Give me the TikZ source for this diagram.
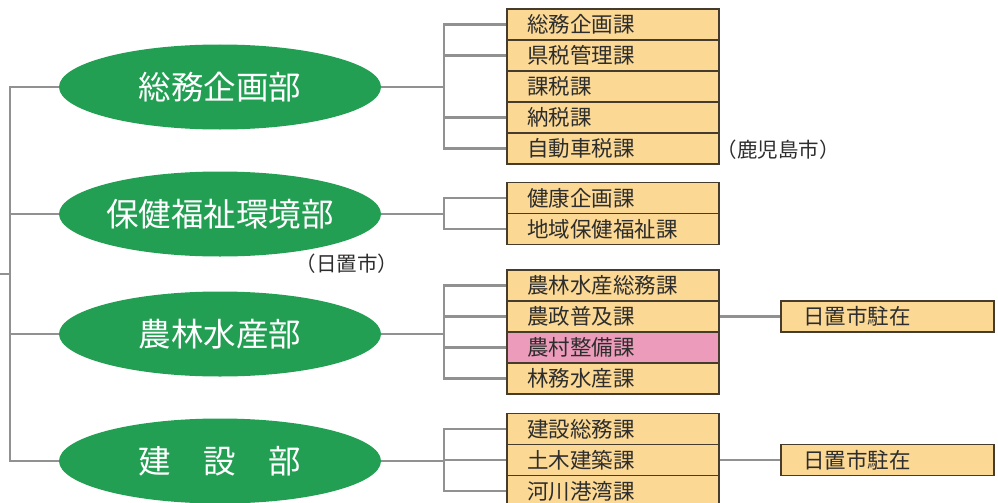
\documentclass[tikz,border=0pt]{standalone}
\usepackage{fontspec}
\setmainfont{Noto Sans CJK JP}
\usetikzlibrary{shapes.geometric, backgrounds}
\definecolor{bugreen}{RGB}{35,159,83}
\definecolor{kafill}{RGB}{251,216,148}
\definecolor{kapink}{RGB}{236,156,186}
\definecolor{kaline}{RGB}{70,60,45}
\definecolor{linkgray}{RGB}{145,145,145}
\definecolor{katext}{RGB}{45,45,45}
\tikzset{
  bu/.style = {ellipse, fill=bugreen, text=white, minimum width=322pt,
    minimum height=85pt, inner sep=0pt, font=\fontsize{32.5}{32.5}\selectfont},
  ka/.style = {draw=kaline, line width=1.2pt, fill=kafill, text=katext,
    minimum width=212pt, minimum height=31pt, inner xsep=20pt, inner ysep=0pt,
    text width=172pt, align=left, font=\fontsize{21.5}{21.5}\selectfont},
  chuzai/.style = {ka, minimum width=213pt, inner xsep=22pt, text width=169pt},
  note/.style = {text=katext, font=\fontsize{20.5}{20.5}\selectfont},
  link/.style = {draw=linkgray, line width=2.8pt}
}
\begin{document}
\begin{tikzpicture}[x=1pt, y=-1pt]

      \clip (0,0) rectangle (998,503);

      % trunk
      \coordinate (in) at (0,274);
      \coordinate (trunk) at (10,274);

      % departments
      \node[bu] (somu) at (220,87) {総務企画部};
      \node[bu] (hoken) at (220,214) {保健福祉環境部};
      \node[bu] (nourin) at (220,334) {農林水産部};
      \node[bu] (kensetsu) at (220,461) {建\hspace{1em}設\hspace{1em}部};

      % sections
      \node[ka] (s1) at (613,24.5) {総務企画課};
      \node[ka] (s2) at (613,55.5) {県税管理課};
      \node[ka] (s3) at (613,86.5) {課税課};
      \node[ka] (s4) at (613,117.5) {納税課};
      \node[ka] (s5) at (613,148.5) {自動車税課};

      \node[ka] (h1) at (613,198) {健康企画課};
      \node[ka] (h2) at (613,229) {地域保健福祉課};

      \node[ka] (n1) at (613,285.5) {農林水産総務課};
      \node[ka] (n2) at (613,316.5) {農政普及課};
      \node[ka, fill=kapink] (n3) at (613,347.5) {農村整備課};
      \node[ka] (n4) at (613,378.5) {林務水産課};

      \node[ka] (k1) at (613,429) {建設総務課};
      \node[ka] (k2) at (613,460) {土木建築課};
      \node[ka] (k3) at (613,491) {河川港湾課};

      \node[chuzai] (nc) at (887.5,316.5) {日置市駐在};
      \node[chuzai] (kc) at (887.5,460) {日置市駐在};

      \node[note] (kagoshima) at (778,150) {（鹿児島市）};
      \node[note] (hioki) at (347,264) {（日置市）};

      % brackets
      \coordinate (bs) at (444,87);
      \coordinate (bh) at (444,214);
      \coordinate (bn) at (444,334);
      \coordinate (bk) at (444,461);

      \begin{pgfonlayer}{background}
      \fill[white] (0,0) rectangle (998,503);
      \draw[link] (in) -- (trunk);
      \draw[link] (somu.west) -| (trunk) |- (kensetsu.west);
      \draw[link] (hoken.west) -- (hoken.west -| trunk);
      \draw[link] (nourin.west) -- (nourin.west -| trunk);

      \draw[link] (somu.east) -- (bs);
      \draw[link] (s1.west) -| (bs) |- (s5.west);
      \draw[link] (s2.west) -- (s2.west -| bs);
      \draw[link] (s4.west) -- (s4.west -| bs);

      \draw[link] (hoken.east) -- (bh);
      \draw[link] (h1.west) -| (bh) |- (h2.west);

      \draw[link] (nourin.east) -- (bn);
      \draw[link] (n1.west) -| (bn) |- (n4.west);
      \draw[link] (n2.west) -- (n2.west -| bn);
      \draw[link] (n3.west) -- (n3.west -| bn);

      \draw[link] (kensetsu.east) -- (bk);
      \draw[link] (k1.west) -| (bk) |- (k3.west);
      \draw[link] (k2.west) -- (k2.west -| bk);

      \draw[link] (n2.east) -- (nc.west);
      \draw[link] (k2.east) -- (kc.west);
      \end{pgfonlayer}
    \end{tikzpicture}
\end{document}
